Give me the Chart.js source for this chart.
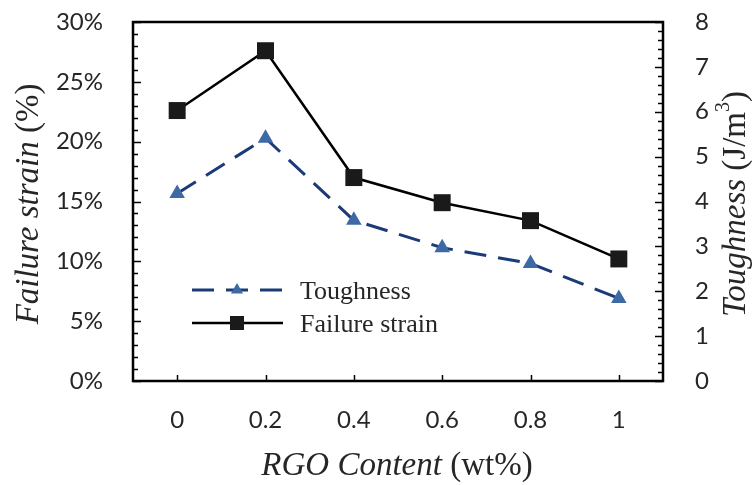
<!DOCTYPE html>
<html><head><meta charset="utf-8">
<script src="https://cdn.jsdelivr.net/npm/chart.js@4/dist/chart.umd.min.js"></script>
<style>html,body{margin:0;padding:0;background:#fff}#wrap{width:755px;height:485px}</style>
</head><body><div id="wrap"><canvas id="c" width="755" height="485"></canvas></div>
<script>
const categories = ['0', '0.2', '0.4', '0.6', '0.8', '1'];
const failureStrain = [22.6, 27.6, 17.0, 14.9, 13.4, 10.2];
const toughness = [4.18, 5.41, 3.58, 2.97, 2.62, 1.84];
const seriesNames = ['Toughness', 'Failure strain'];
const xTitle = [['RGO Content ', 'italic'], ['(wt%)', 'normal']];
const leftTitle = [['Failure strain ', 'italic'], ['(%)', 'normal']];
const rightTitle = [['Toughness ', 'italic'], ['(J/m', 'normal'], ['3', 'sup'], [')', 'normal']];

const SERIF = '"Liberation Serif", "Times New Roman", serif';
const SANS = 'Lato, "Open Sans", sans-serif';
const TXT = '#262626';

function drawRich(ctx, parts, cx, cy, size, rot) {
  ctx.save();
  ctx.translate(cx, cy);
  ctx.rotate(rot);
  const fontOf = (p) => p[1] === 'italic' ? `italic ${size}px ${SERIF}` : (p[1] === 'sup' ? `${Math.round(size*0.62)}px ${SERIF}` : `${size}px ${SERIF}`);
  let total = 0;
  parts.forEach(p => { ctx.font = fontOf(p); total += ctx.measureText(p[0]).width; });
  let x = -total / 2;
  ctx.fillStyle = TXT;
  ctx.textBaseline = 'middle';
  ctx.textAlign = 'left';
  parts.forEach(p => {
    ctx.font = fontOf(p);
    ctx.fillText(p[0], x, p[1] === 'sup' ? -size * 0.38 : 0);
    x += ctx.measureText(p[0]).width;
  });
  ctx.restore();
}

const framePlugin = {
  id: 'frame',
  afterDraw(chart) {
    const ctx = chart.ctx, a = chart.chartArea;
    const yl = chart.scales.y, yr = chart.scales.y1, xs = chart.scales.x;
    ctx.save();
    ctx.strokeStyle = '#000';
    ctx.lineWidth = 1.5;
    for (let v = 0; v <= 30; v += 1) {
      const y = Math.round(yl.getPixelForValue(v)) + 0.5;
      const len = v % 5 === 0 ? 8 : 5;
      ctx.beginPath(); ctx.moveTo(a.left, y); ctx.lineTo(a.left + len, y); ctx.stroke();
    }
    for (let i = 0; i <= 40; i++) {
      const v = i * 0.2;
      const y = Math.round(yr.getPixelForValue(v)) + 0.5;
      const len = i % 5 === 0 ? 8 : 5;
      ctx.beginPath(); ctx.moveTo(a.right, y); ctx.lineTo(a.right - len, y); ctx.stroke();
    }
    for (let i = 0; i < categories.length; i++) {
      const x = Math.round(xs.getPixelForValue(i)) + 0.5;
      ctx.beginPath(); ctx.moveTo(x, a.bottom); ctx.lineTo(x, a.bottom - 6); ctx.stroke();
    }
    ctx.lineWidth = 2.5;
    ctx.strokeRect(a.left, a.top, a.right - a.left, a.bottom - a.top);
    ctx.restore();

    drawRich(ctx, xTitle, 397, 466, 33, 0);
    drawRich(ctx, leftTitle, 29, 204, 33, -Math.PI / 2);
    drawRich(ctx, rightTitle, 736, 204, 33, -Math.PI / 2);

    chart.data.datasets.forEach((ds, i) => {
      const y = 290 + i * 33;
      ctx.save();
      ctx.strokeStyle = ds.borderColor;
      ctx.lineWidth = ds.borderWidth;
      ctx.setLineDash(ds.borderDash || []);
      ctx.beginPath(); ctx.moveTo(192, y); ctx.lineTo(283, y); ctx.stroke();
      ctx.setLineDash([]);
      ctx.fillStyle = ds.pointBackgroundColor;
      ctx.beginPath();
      if (ds.pointStyle === 'rect') {
        ctx.rect(237 - 7, y - 7, 14, 14);
      } else {
        const r = 7;
        ctx.moveTo(237, y - r);
        ctx.lineTo(237 + r * 0.866, y + r * 0.5);
        ctx.lineTo(237 - r * 0.866, y + r * 0.5);
        ctx.closePath();
      }
      ctx.fill();
      ctx.fillStyle = TXT;
      ctx.font = `26px ${SERIF}`;
      ctx.textBaseline = 'middle';
      ctx.textAlign = 'left';
      ctx.fillText(ds.label, 300, y + 2);
      ctx.restore();
    });
  }
};

new Chart(document.getElementById('c'), {
  type: 'line',
  data: {
    labels: categories,
    datasets: [
      {
        label: seriesNames[0],
        data: toughness,
        yAxisID: 'y1',
        borderColor: '#1b3a78',
        borderWidth: 3,
        borderDash: [22, 12],
        pointStyle: 'triangle',
        pointRadius: 9,
        pointBackgroundColor: '#3d6aa5',
        pointBorderColor: '#3d6aa5',
        pointBorderWidth: 0,
        tension: 0
      },
      {
        label: seriesNames[1],
        data: failureStrain,
        yAxisID: 'y',
        borderColor: '#000000',
        borderWidth: 2.5,
        pointStyle: 'rect',
        pointRadius: 12,
        pointBackgroundColor: '#1a1a1a',
        pointBorderColor: '#1a1a1a',
        pointBorderWidth: 0,
        tension: 0
      }
    ]
  },
  options: {
    responsive: false,
    animation: false,
    devicePixelRatio: 1,
    layout: { padding: { top: 0, left: 0, right: 0, bottom: 0 } },
    plugins: { legend: { display: false }, tooltip: { enabled: false } },
    scales: {
      x: {
        offset: true,
        grid: { display: false, drawTicks: false, tickLength: 0 },
        border: { display: false },
        ticks: { color: TXT, font: { family: SANS, size: 24 }, padding: 25 },
        afterFit(s) { s.height = 104; }
      },
      y: {
        position: 'left',
        min: 0, max: 30,
        grid: { display: false, drawTicks: false, tickLength: 0 },
        border: { display: false },
        ticks: { stepSize: 5, color: TXT, font: { family: SANS, size: 24 }, padding: 30, callback: v => v + '%' },
        afterFit(s) { s.width = 133; s.paddingTop = 0; s.paddingBottom = 0; }
      },
      y1: {
        position: 'right',
        min: 0, max: 8,
        grid: { display: false, drawTicks: false, tickLength: 0 },
        border: { display: false },
        ticks: { stepSize: 1, color: TXT, font: { family: SANS, size: 24 }, padding: 32 },
        afterFit(s) { s.width = 92; s.paddingTop = 0; s.paddingBottom = 0; }
      }
    }
  },
  plugins: [framePlugin, {
    id: 'fixTop',
    beforeLayout(chart) { chart.options.layout.padding.top = 22; }
  }]
});
</script>
</body></html>
